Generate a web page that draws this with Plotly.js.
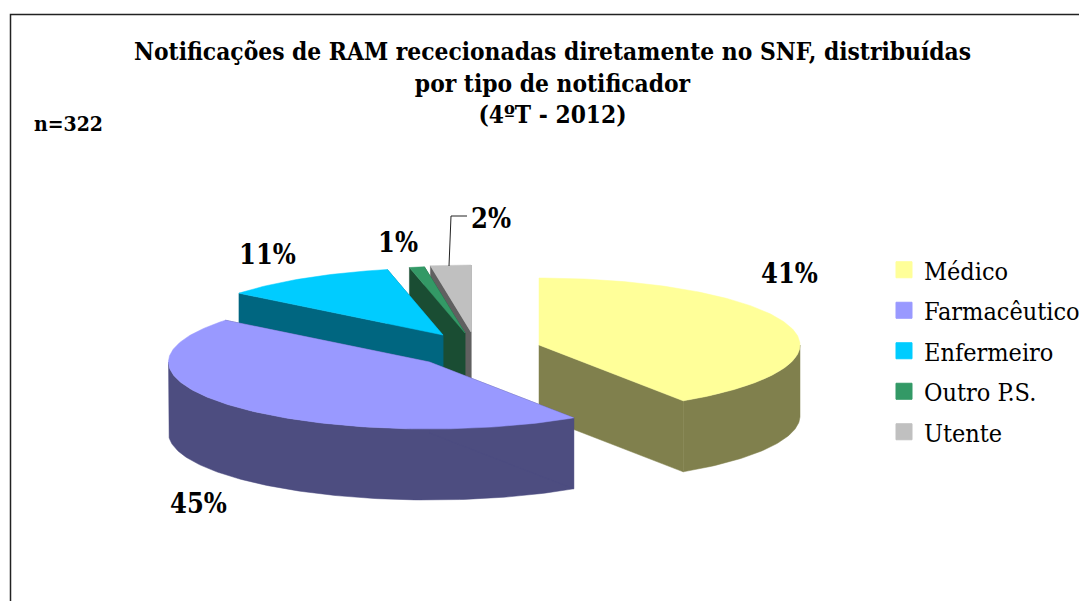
<!DOCTYPE html>
<html>
<head>
<meta charset="utf-8">
<script src="https://cdn.plot.ly/plotly-3.0.1.min.js"></script>
<style>html,body{margin:0;padding:0;overflow:hidden;background:#fff;width:1079px;height:601px}</style>
</head>
<body>
<div id="chart"></div>
<script>
const categories = ["Médico", "Farmacêutico", "Enfermeiro", "Outro P.S.", "Utente"];
const counts = [131, 145, 35, 3, 8];
const percentLabels = ["41%", "45%", "11%", "1%", "2%"];
const topColors = ["#FFFF99", "#9999FF", "#00CCFF", "#339966", "#C0C0C0"];
const sideColors = ["#80804D", "#4D4D80", "#006680", "#1A4D33", "#606060"];
const centersX = [539, 429.5, 443, 465, 471];
const centersY = [345, 362, 335, 333, 332];
const labelX = [789, 198, 267, 398, 491];
const labelY = [273, 503, 254, 242, 218];
const drawOrder = [4, 3, 2, 0, 1];

const W = 1120, H = 640, RX = 261, RY = 67, DEPTH = 71;
const FONT = '"DejaVu Serif Condensed", "DejaVu Serif", serif';
const total = counts.reduce((a, b) => a + b, 0);
const cum = [0];
counts.forEach((v, i) => cum.push(cum[i] + v / total * 360));

function rim(i, deg, drop) {
  const t = deg * Math.PI / 180;
  return [centersX[i] + RX * Math.sin(t), centersY[i] - RY * Math.cos(t) + drop];
}
function arc(i, a, b, drop) {
  const pts = [], n = Math.max(2, Math.ceil(Math.abs(b - a)));
  for (let k = 0; k <= n; k++) pts.push(rim(i, a + (b - a) * k / n, drop));
  return pts;
}
function poly(pts, color, group, lw) {
  return {
    x: pts.map(p => p[0]).concat([pts[0][0]]),
    y: pts.map(p => p[1]).concat([pts[0][1]]),
    mode: "lines", fill: "toself", fillcolor: color,
    line: {color: color, width: lw || 0.5},
    legendgroup: group, showlegend: false, hoverinfo: "skip"
  };
}

const traces = [];
drawOrder.forEach(i => {
  const a = cum[i], b = cum[i + 1], g = categories[i], c = sideColors[i];
  const apex = [centersX[i], centersY[i]];
  const low = [apex[0], apex[1] + DEPTH];
  traces.push(poly([apex, rim(i, b, 0), rim(i, b, DEPTH), low], c, g));
  const fa = Math.max(a, 90), fb = Math.min(b, 270);
  if (fb > fa) traces.push(poly(arc(i, fa, fb, 0).concat(arc(i, fb, fa, DEPTH)), c, g));
  if (a > 0) traces.push(poly([apex, rim(i, a, 0), rim(i, a, DEPTH), low], c, g));
  traces.push(poly([apex].concat(arc(i, a, b, 0)), topColors[i], g));
});
categories.forEach((name, i) => {
  traces.push({
    x: [-50], y: [-50], mode: "markers", name: name, legendgroup: name,
    marker: {symbol: "square", size: 16, color: topColors[i], line: {color: topColors[i], width: 1}},
    hoverinfo: "skip"
  });
});

const annotations = percentLabels.map((t, i) => ({
  x: labelX[i], y: labelY[i], xref: "x", yref: "y", text: "<b>" + t + "</b>", showarrow: false,
  xanchor: "center", yanchor: "middle", font: {family: FONT, size: 27, color: "#000"}
}));
annotations.push({
  x: 68, y: 123, xref: "x", yref: "y", text: "<b>n=" + total + "</b>", showarrow: false,
  xanchor: "center", yanchor: "middle", font: {family: FONT, size: 21, color: "#000"}
});

const layout = {
  width: W, height: H,
  margin: {l: 0, r: 0, t: 0, b: 0},
  paper_bgcolor: "#fff", plot_bgcolor: "#fff",
  title: {
    text: "<b>Notificações de RAM rececionadas diretamente no SNF, distribuídas<br>por tipo de notificador<br>(4ºT - 2012)</b>",
    x: 552.5 / W, xanchor: "center", xref: "paper",
    y: 1 - 60 / H, yanchor: "top", yref: "container",
    font: {family: FONT, size: 24.3, color: "#000"}
  },
  xaxis: {range: [0, W], visible: false, fixedrange: true},
  yaxis: {range: [H, 0], visible: false, fixedrange: true},
  showlegend: true,
  legend: {
    x: 884 / W, y: 1 - 247 / H, xanchor: "left", yanchor: "top",
    traceorder: "grouped", tracegroupgap: 5,
    bgcolor: "rgba(0,0,0,0)", borderwidth: 0,
    font: {family: FONT, size: 25, color: "#000"}
  },
  shapes: [
    {type: "rect", xref: "x", yref: "y", x0: 10.5, y0: 14.5, x1: W + 20, y1: H + 20,
     line: {color: "#222", width: 1.5}, fillcolor: "rgba(0,0,0,0)", layer: "below"},
    {type: "path", xref: "x", yref: "y", path: "M 449 266 L 451 216 L 467 216",
     line: {color: "#222", width: 1}}
  ],
  annotations: annotations
};
Plotly.newPlot("chart", traces, layout, {displayModeBar: false, responsive: false});
</script>
</body>
</html>
